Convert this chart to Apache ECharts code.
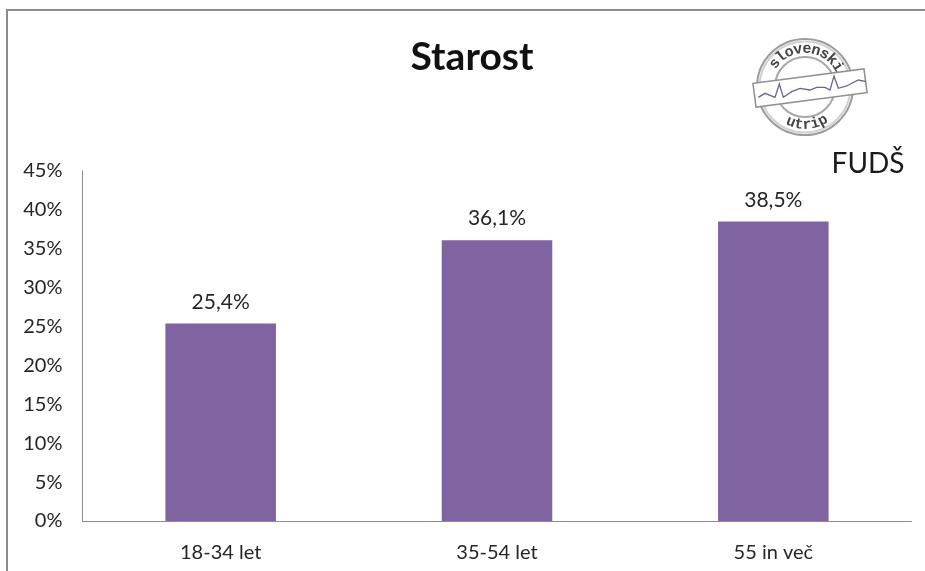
<!DOCTYPE html>
<html>
<head>
<meta charset="utf-8">
<title>Starost</title>
<style>
  html, body { margin: 0; padding: 0; background: #fff; }
  #chart { width: 925px; height: 571px; }
</style>
<script src="https://cdn.jsdelivr.net/npm/echarts@6/dist/echarts.min.js"></script>
</head>
<body>
<div id="chart"></div>
<script>
var categories = ['18-34 let', '35-54 let', '55 in več'];
var values = [25.4, 36.1, 38.5];
var valueLabels = ['25,4%', '36,1%', '38,5%'];

var FONT = 'Lato, "Open Sans", sans-serif';
var TEXT = '#262626';

// logo: sits outside the axes, so it is placed in pixels
var logoX = 805, logoY = 87;
var ecg = [[85,262],[105,250],[135,262],[148,222],[160,262],[185,245],[210,235],[240,240],[260,232],[285,232],[300,240],[312,198],[325,235],[350,228],[385,210],[408,215]];

function arcLetters(word, from, to, r, bottom) {
  var out = [];
  for (var i = 0; i < word.length; i++) {
    var deg = from + (to - from) * i / (word.length - 1);
    var a = deg * Math.PI / 180;
    out.push({
      type: 'text',
      x: logoX + r * Math.sin(a),
      y: logoY - r * Math.cos(a),
      rotation: bottom ? -(a - Math.PI) : -a,
      style: { text: word[i], x: 0, y: 0, align: 'center', verticalAlign: 'middle',
        fill: '#444', font: 'bold 15px "Liberation Mono", monospace' },
      z: 12
    });
  }
  return out;
}

var logo = [
  { type: 'circle', shape: { cx: logoX, cy: logoY, r: 48 }, style: { fill: 'none', stroke: '#9c9c9c', lineWidth: 2 }, z: 10 },
  { type: 'circle', shape: { cx: logoX, cy: logoY, r: 45.5 }, style: { fill: 'none', stroke: '#d2d2d2', lineWidth: 2 }, z: 10 },
  { type: 'circle', shape: { cx: logoX, cy: logoY, r: 30 }, style: { fill: 'none', stroke: '#a8a8a8', lineWidth: 2 }, z: 10 },
  { type: 'rect', shape: { x: -56, y: -12, width: 112, height: 24 }, x: 810, y: 88, rotation: 7.5 * Math.PI / 180,
    style: { fill: '#fff', stroke: '#8f8f8f', lineWidth: 1.5 }, z: 11 },
  { type: 'polyline', shape: { points: ecg.map(function (p) { return [730 + p[0] / 3, 10 + p[1] / 3]; }) },
    style: { fill: 'none', stroke: '#6c6499', lineWidth: 1.3 }, z: 12 },
  { type: 'text', x: 868, y: 164, style: { text: 'FUDŠ', x: 0, y: 0, align: 'center', verticalAlign: 'middle',
    fill: '#1a1a1a', font: '28px ' + FONT }, z: 12 }
].concat(arcLetters('slovenski', -52, 58, 38, false)).concat(arcLetters('utrip', 202, 152, 38, true));

var frame = [
  { type: 'line', shape: { x1: 7, y1: 10, x2: 7, y2: 571 }, style: { stroke: '#8c8c8c', lineWidth: 2 } },
  { type: 'line', shape: { x1: 6, y1: 10, x2: 925, y2: 10 }, style: { stroke: '#8c8c8c', lineWidth: 2 } }
];

var chart = echarts.init(document.getElementById('chart'), null, { renderer: 'canvas' });
chart.setOption({
  animation: false,
  backgroundColor: '#fff',
  title: {
    text: 'Starost',
    left: 467,
    top: 33,
    textAlign: 'center',
    textStyle: { fontFamily: FONT, fontWeight: 'bold', fontSize: 39, color: '#111' }
  },
  grid: { left: 82.5, right: 13.5, top: 171, bottom: 50 },
  xAxis: {
    type: 'category',
    data: categories,
    axisLine: { lineStyle: { color: '#8c8c8c', width: 1 } },
    axisTick: { show: false },
    axisLabel: { color: TEXT, fontFamily: FONT, fontSize: 20, margin: 22 }
  },
  yAxis: {
    type: 'value',
    min: 0,
    max: 45,
    interval: 5,
    axisLine: { show: true, lineStyle: { color: '#8c8c8c', width: 1 } },
    axisTick: { show: false },
    splitLine: { show: false },
    axisLabel: { color: TEXT, fontFamily: FONT, fontSize: 20, margin: 20, formatter: '{value}%' }
  },
  series: [{
    type: 'bar',
    data: values,
    barWidth: '40%',
    itemStyle: { color: '#8064a2' },
    label: {
      show: true,
      position: 'top',
      distance: 11,
      color: TEXT,
      fontFamily: FONT,
      fontSize: 21,
      formatter: function (p) { return valueLabels[p.dataIndex]; }
    }
  }],
  graphic: frame.concat(logo)
});
</script>
</body>
</html>
